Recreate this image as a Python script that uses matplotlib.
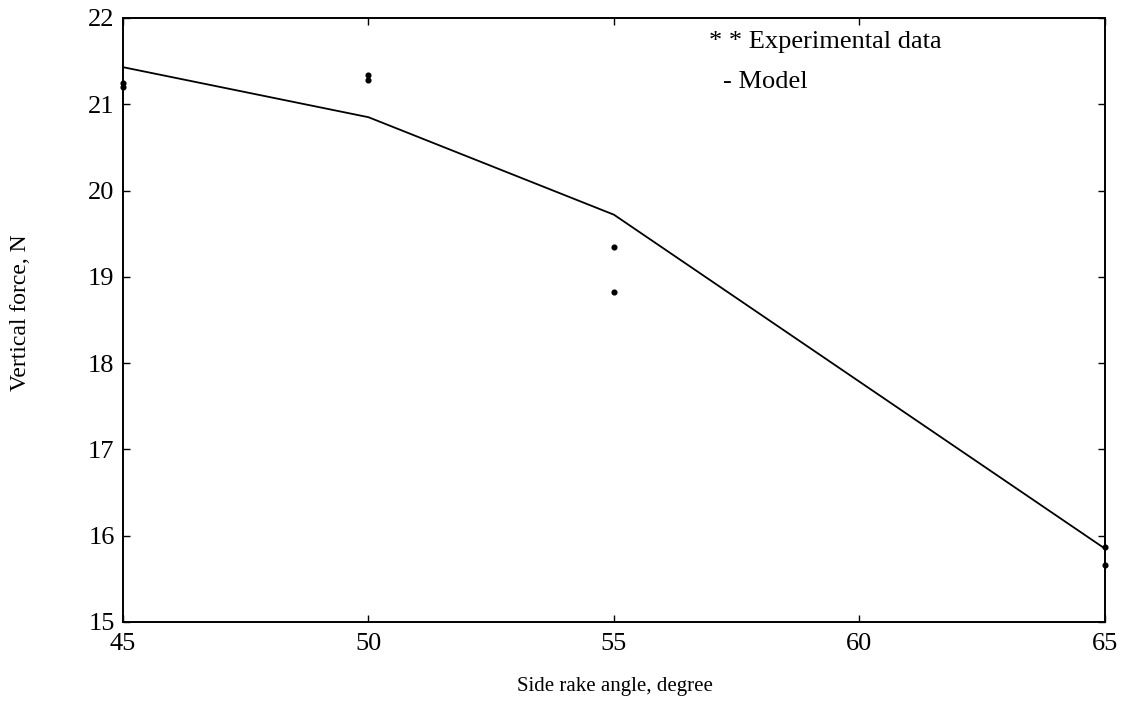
'''
Vertical force vs side rake angle, model vs experiment.
'''

import numpy as np
import matplotlib
matplotlib.use('Agg')
import matplotlib.pyplot as plt

plt.rcParams['font.family'] = ['Liberation Serif', 'DejaVu Serif']

### model curve
angle_model = [45, 50, 55, 65]
force_model = [21.43, 20.85, 19.72, 15.85]

### experimental points (two repeats per angle)
angle_exp = [45, 45, 50, 50, 55, 55, 65, 65]
force_exp = [21.25, 21.20, 21.34, 21.28, 19.35, 18.82, 15.87, 15.66]

x_ticks = np.arange(45, 66, 5)
y_ticks = np.arange(15, 23, 1)

fig = plt.figure(figsize=(11.22, 7.08), dpi=100)
ax = fig.add_axes([0.1096, 0.1215, 0.8752, 0.8531])

ax.plot(angle_model, force_model, 'k-', linewidth=1.3)
ax.plot(angle_exp, force_exp, 'ko', markersize=3.4, clip_on=False)

ax.set_xlim(45, 65)
ax.set_ylim(15, 22)
ax.set_xticks(x_ticks)
ax.set_yticks(y_ticks)
ax.tick_params(direction='in', length=5, width=1, top=True, right=True,
               labelsize=19)
ax.tick_params(axis='x', pad=8)
ax.tick_params(axis='y', pad=6)
for sp in ax.spines.values():
    sp.set_linewidth(1.4)

ax.set_xlabel('Side rake angle, degree', fontsize=15)
ax.set_ylabel('Vertical force, N', fontsize=17)
ax.xaxis.set_label_coords(0.501, -0.106)
ax.yaxis.set_label_coords(-0.104, 0.512)
ax.xaxis.label.set_va('center')
ax.yaxis.label.set_va('center')

# legend written as plain text, like the original
ax.text(0.597, 0.960, '* * Experimental data', fontsize=19, ha='left', va='center',
        transform=ax.transAxes)
ax.text(0.611, 0.894, '- Model', fontsize=19, ha='left', va='center',
        transform=ax.transAxes)

fig.savefig('out.png', dpi=100)
